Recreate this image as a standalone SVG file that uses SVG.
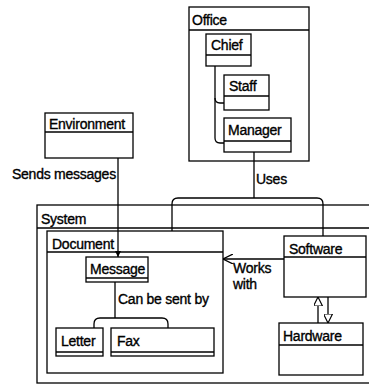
<svg xmlns="http://www.w3.org/2000/svg" width="369" height="385" viewBox="0 0 369 385">
<style>
.b{fill:#fff;stroke:#000;stroke-width:1.3}
.l{fill:none;stroke:#000;stroke-width:1.3}
text{font-family:"Liberation Sans",Arial,sans-serif;font-size:14px;fill:#000;stroke:#000;stroke-width:0.35;letter-spacing:-0.25px}
</style>
<defs>
<marker id="tri" viewBox="0 0 10 10" refX="10" refY="5" markerWidth="9" markerHeight="9" orient="auto" markerUnits="userSpaceOnUse"><path d="M0,0 L10,5 L0,10 Z" fill="#fff" stroke="#000" stroke-width="1.3"/></marker>
<marker id="open" viewBox="0 0 10 10" refX="10" refY="5" markerWidth="10" markerHeight="10" orient="auto" markerUnits="userSpaceOnUse"><path d="M0,0 L10,5 L0,10" fill="none" stroke="#000" stroke-width="1.3"/></marker>
<marker id="sm" viewBox="0 0 10 10" refX="10" refY="5" markerWidth="6" markerHeight="6" orient="auto" markerUnits="userSpaceOnUse"><path d="M0,0 L10,5 L0,10 Z" fill="#000"/></marker>
</defs>
<g id="system">
<rect class="b" x="37" y="205" width="340" height="178"/>
<line class="l" x1="37" y1="228" x2="377" y2="228"/>
<text x="41" y="224">System</text>
</g>
<g id="office">
<rect class="b" x="189" y="7" width="120" height="154"/>
<line class="l" x1="189" y1="30" x2="309" y2="30"/>
<text x="192" y="25">Office</text>
</g>
<g id="document">
<rect class="b" x="47" y="231" width="176" height="142"/>
<line class="l" x1="47" y1="252" x2="223" y2="252"/>
<text x="52" y="249">Document</text>
</g>
<g id="connectors">
<path class="l" d="M215,66 V138 Q215,143 220,143 H224"/>
<path class="l" d="M215,98 Q215,103 220,103 H224"/>
<line class="l" x1="254" y1="152" x2="254" y2="198"/>
<path class="l" d="M172,231 V204 Q172,198 178,198 H317 Q323,198 323,204 V236"/>
<line class="l" x1="118" y1="158" x2="118" y2="257" marker-end="url(#sm)"/>
<path class="l" d="M115,282 V318"/>
<path class="l" d="M94,328 V324 Q94,318 100,318 H162 Q168,318 168,324 V328"/>
<line class="l" x1="284" y1="259" x2="223" y2="259" marker-end="url(#open)"/>
<line class="l" x1="318" y1="323" x2="318" y2="297" marker-end="url(#tri)"/>
<line class="l" x1="328" y1="297" x2="328" y2="323" marker-end="url(#tri)"/>
<text x="12" y="179">Sends messages</text>
<text x="256" y="184">Uses</text>
<text x="118" y="304">Can be sent by</text>
<text x="233" y="273">Works</text>
<text x="233" y="289">with</text>
</g>
<g id="chief">
<rect class="b" x="206" y="34" width="45" height="32"/>
<line class="l" x1="206" y1="55" x2="251" y2="55"/>
<text x="211" y="50">Chief</text>
</g>
<g id="staff">
<rect class="b" x="224" y="75" width="45" height="35"/>
<line class="l" x1="224" y1="96" x2="269" y2="96"/>
<text x="229" y="91">Staff</text>
</g>
<g id="manager">
<rect class="b" x="224" y="118" width="67" height="34"/>
<line class="l" x1="224" y1="141" x2="291" y2="141"/>
<text x="228" y="135">Manager</text>
</g>
<g id="environment">
<rect class="b" x="45" y="113" width="88" height="45"/>
<line class="l" x1="45" y1="132" x2="133" y2="132"/>
<text x="49" y="129">Environment</text>
</g>
<g id="message">
<rect class="b" x="86" y="257" width="62" height="25"/>
<line class="l" x1="86" y1="278" x2="148" y2="278"/>
<text x="90" y="274">Message</text>
</g>
<g id="letter">
<rect class="b" x="56" y="328" width="47" height="28"/>
<line class="l" x1="56" y1="352" x2="103" y2="352"/>
<text x="61" y="346">Letter</text>
</g>
<g id="fax">
<rect class="b" x="111" y="328" width="103" height="28"/>
<line class="l" x1="111" y1="352" x2="214" y2="352"/>
<text x="117" y="346">Fax</text>
</g>
<g id="software">
<rect class="b" x="284" y="236" width="82" height="61"/>
<line class="l" x1="284" y1="257" x2="366" y2="257"/>
<text x="289" y="254">Software</text>
</g>
<g id="hardware">
<rect class="b" x="279" y="323" width="84" height="52"/>
<line class="l" x1="279" y1="345" x2="363" y2="345"/>
<text x="283" y="341">Hardware</text>
</g>
</svg>
